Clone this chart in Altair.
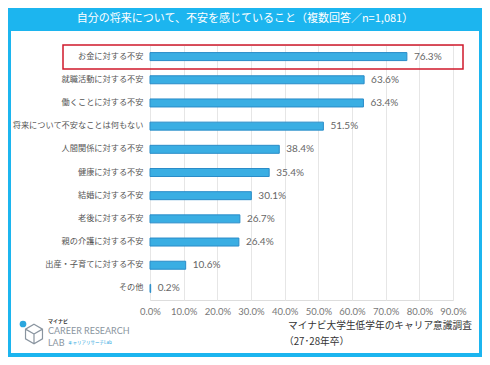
import altair as alt
import pandas as pd

categories = [
    "お金に対する不安",
    "就職活動に対する不安",
    "働くことに対する不安",
    "将来について不安なことは何もない",
    "人間関係に対する不安",
    "健康に対する不安",
    "結婚に対する不安",
    "老後に対する不安",
    "親の介護に対する不安",
    "出産・子育てに対する不安",
    "その他",
]
values = [76.3, 63.6, 63.4, 51.5, 38.4, 35.4, 30.1, 26.7, 26.4, 10.6, 0.2]
tick_values = [0, 10, 20, 30, 40, 50, 60, 70, 80, 90]

title_text = "自分の将来について、不安を感じていること（複数回答／n=1,081）"
source_lines = ["マイナビ大学生低学年のキャリア意識調査", "（27･28年卒）"]

JP = "Noto Sans CJK JP"
BLUE = "#1cb5ef"

df = pd.DataFrame({"cat": categories, "val": values})
df["label"] = [f"{v:.1f}%" for v in values]
one = pd.DataFrame({"a": [0]})

W, H = 303, 255
PL, PT = 142, 37
PR = 474 - PL - W
PB = 349 - PT - H

y_axis = alt.Axis(
    title=None, domain=False, ticks=False, labelPadding=7,
    labelFont=JP, labelFontSize=8.2, labelColor="#555555", grid=False,
    labelLimit=200,
)
x_axis = alt.Axis(
    title=None, values=tick_values, domain=False, ticks=False,
    labelExpr="format(datum.value, '.1f') + '%'", labelOverlap=False,
    labelFont="Lato", labelFontSize=9.5, labelColor="#777777",
    labelPadding=6, grid=True, gridColor="#e6e6e6", gridWidth=1,
    labelFlush=False,
)
y_enc = alt.Y("cat:N", sort=categories,
              scale=alt.Scale(paddingInner=0, paddingOuter=0), axis=y_axis)
x_enc = alt.X("val:Q", scale=alt.Scale(domain=[0, 90], nice=False), axis=x_axis)

bars = alt.Chart(df).mark_bar(
    size=8, color="#3aaee3", stroke="#2a8cc8", strokeWidth=1
).encode(x=x_enc, y=y_enc)

labels = alt.Chart(df).mark_text(
    align="left", baseline="middle", dx=7, font="Lato",
    fontSize=10, color="#666666"
).encode(x=x_enc, y=y_enc, text="label:N")

# frame and title band
band = alt.Chart(one).mark_rect(color=BLUE).encode(
    x=alt.value(-PL), x2=alt.value(W + PR), y=alt.value(-PT), y2=alt.value(-14)
)
left_b = alt.Chart(one).mark_rect(color=BLUE).encode(
    x=alt.value(-PL), x2=alt.value(-PL + 3), y=alt.value(-PT), y2=alt.value(H + PB)
)
right_b = alt.Chart(one).mark_rect(color=BLUE).encode(
    x=alt.value(W + PR - 3), x2=alt.value(W + PR), y=alt.value(-PT), y2=alt.value(H + PB)
)
bottom_b = alt.Chart(one).mark_rect(color=BLUE).encode(
    x=alt.value(-PL), x2=alt.value(W + PR), y=alt.value(H + PB - 4), y2=alt.value(H + PB)
)
title = alt.Chart(one).mark_text(
    text=title_text, font=JP, fontSize=11, color="white", align="center",
    baseline="middle", fontWeight="normal"
).encode(x=alt.value(95), y=alt.value(-26))

# highlight box
box = alt.Chart(one).mark_rect(
    fill=None, stroke="#d0192b", strokeWidth=1.5
).encode(x=alt.value(-87), x2=alt.value(313), y=alt.value(0), y2=alt.value(24))

# source text
src1 = alt.Chart(one).mark_text(
    text=source_lines[0], font=JP, fontSize=9.7, color="#333333", align="left", baseline="middle"
).encode(x=alt.value(138), y=alt.value(281))
src2 = alt.Chart(one).mark_text(
    text=source_lines[1], font=JP, fontSize=9.7, color="#333333", align="left", baseline="middle"
).encode(x=alt.value(134), y=alt.value(297))

# logo
logo_small = alt.Chart(one).mark_text(
    text="マイナビ", font=JP, fontSize=5, color="#333333", align="left", baseline="middle", fontWeight="bold"
).encode(x=alt.value(-102), y=alt.value(276))
logo_main = alt.Chart(one).mark_text(
    text="CAREER RESEARCH", font="Lato", fontSize=9, color="#8a95a0", align="left", baseline="middle"
).encode(x=alt.value(-102), y=alt.value(286))
logo_lab = alt.Chart(one).mark_text(
    text="LAB", font="Lato", fontSize=9, color="#8a95a0", align="left", baseline="middle"
).encode(x=alt.value(-102), y=alt.value(298))
logo_sub = alt.Chart(one).mark_text(
    text="キャリアリサーチLab", font=JP, fontSize=4.5, color="#2aa6de", align="left", baseline="middle"
).encode(x=alt.value(-82), y=alt.value(298))
hexagon = alt.Chart(one).mark_point(
    shape="M0,-1 L0.87,-0.5 L0.87,0.5 L0,1 L-0.87,0.5 L-0.87,-0.5 Z M0,0 L0.87,-0.5 M0,0 L0,1 M0,0 L-0.87,-0.5",
    size=380, filled=False, stroke="#8a95a0", strokeWidth=1.2, opacity=1
).encode(x=alt.value(-116), y=alt.value(289))
dot = alt.Chart(one).mark_point(
    shape="circle", size=45, filled=True, color="#2aa6de", opacity=1
).encode(x=alt.value(-127), y=alt.value(279))

chart = alt.layer(
    band, left_b, right_b, bottom_b, title, bars, labels, box,
    src1, src2, logo_small, logo_main, logo_lab, logo_sub, hexagon, dot
).properties(
    width=W, height=H,
    autosize=alt.AutoSizeParams(type="none"),
    padding={"left": PL, "top": PT, "right": PR, "bottom": PB},
).configure_view(stroke=None).configure(background="white")

chart.save("out.html", embed_options={"renderer": "svg", "actions": False})
